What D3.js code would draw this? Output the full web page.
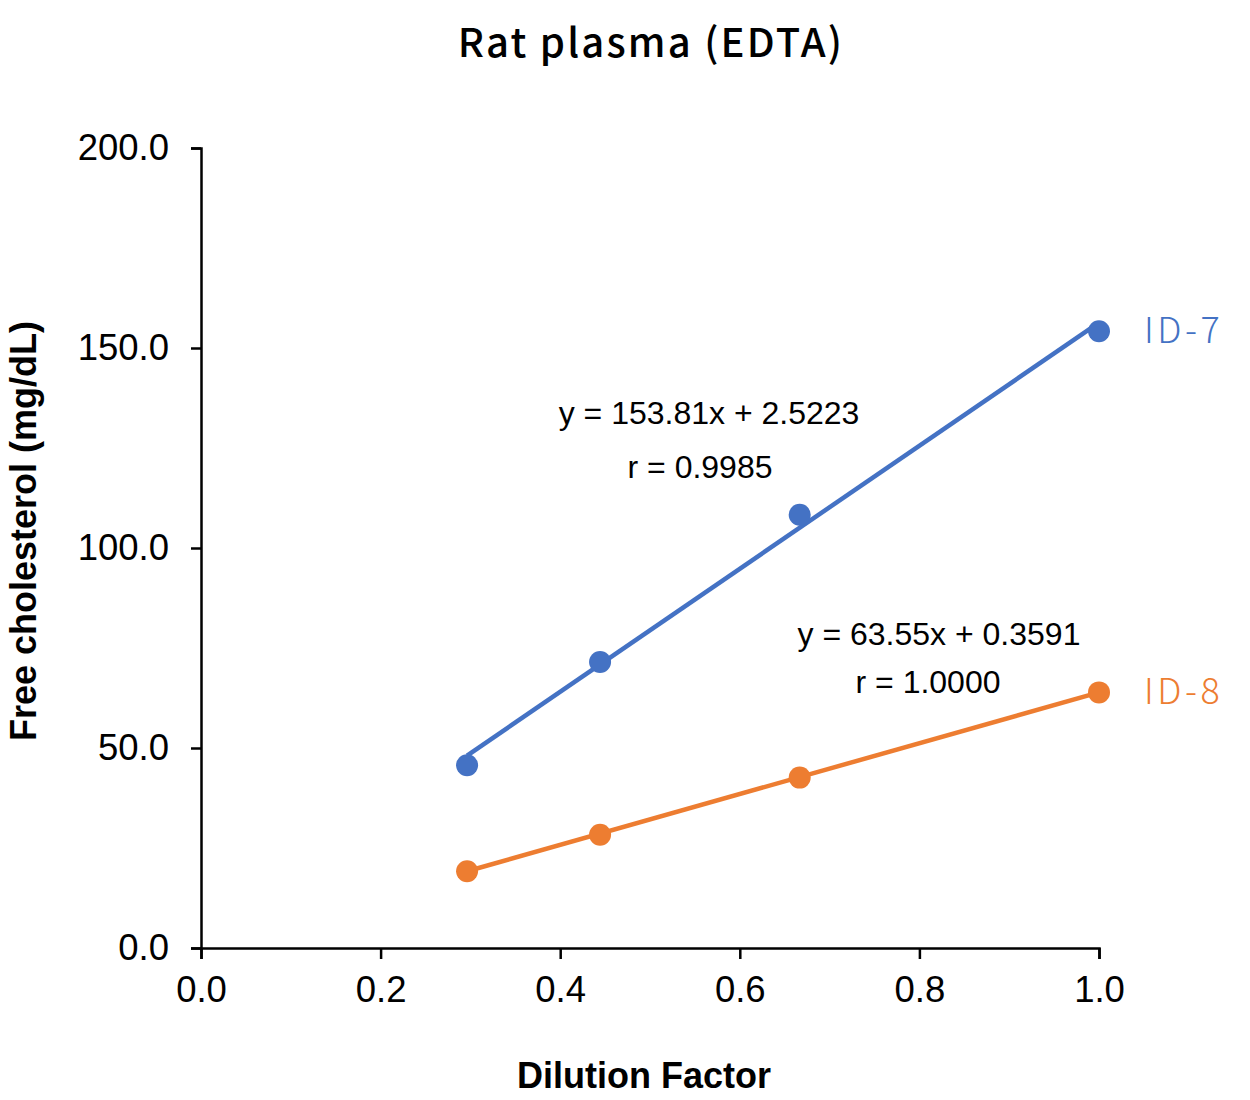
<!DOCTYPE html>
<html lang="en">
  <head>
    <meta charset="UTF-8" />
    <title>Rat plasma (EDTA)</title>
    <style>
      body { margin: 0; background: #fff; }
      .tick text { font-family: "Liberation Sans", Arial, sans-serif; font-size: 36.5px; fill: #000; }
      .eq { font-family: "Liberation Sans", Arial, sans-serif; font-size: 32px; fill: #000; }
    </style>
  </head>
  <body>
    <div id="wrapper"></div>
    <script src="https://d3js.org/d3.v7.min.js"></script>
    <script>
      // dilution factors and measured values
      var dilution = [0.2963, 0.4444, 0.6667, 1.0];
      var id7 = [45.7, 71.5, 108.3, 154.2];
      var id8 = [19.2, 28.3, 42.6, 63.9];
      var seriesNames = ["ID-7", "ID-8"];
      var fitSlope = [153.81, 63.55];
      var fitIntercept = [2.5223, 0.3591];
      var eqLabels = ["y = 153.81x + 2.5223", "y = 63.55x + 0.3591"];
      var rLabels = ["r = 0.9985", "r = 1.0000"];
      var xTicks = [0, 0.2, 0.4, 0.6, 0.8, 1.0];
      var yTicks = [0, 50, 100, 150, 200];

      var colors = ["#4472C4", "#ED7D31"];
      var width = 1250, height = 1100;
      var margin = {top: 148, right: 151, bottom: 152, left: 201};

      var svg = d3.select("#wrapper").append("svg")
          .attr("width", width)
          .attr("height", height);

      var x = d3.scaleLinear().domain([0, 1]).range([margin.left, width - margin.right]);
      var y = d3.scaleLinear().domain([0, 200]).range([height - margin.bottom, margin.top]);

      // title
      svg.append("text")
          .attr("x", 651).attr("y", 57)
          .attr("text-anchor", "middle")
          .style("font-family", "'Noto Sans CJK JP', 'Noto Sans', sans-serif")
          .style("font-weight", 500)
          .style("font-size", "40px")
          .style("letter-spacing", "2.2px")
          .text("Rat plasma (EDTA)");

      // axes
      svg.append("g")
          .attr("transform", "translate(0," + y(0) + ")")
          .call(d3.axisBottom(x).tickValues(xTicks).tickFormat(d3.format(".1f")).tickSizeInner(11).tickSizeOuter(11).tickPadding(17));
      svg.append("g")
          .attr("transform", "translate(" + x(0) + ",0)")
          .call(d3.axisLeft(y).tickValues(yTicks).tickFormat(d3.format(".1f")).tickSizeInner(10).tickSizeOuter(10).tickPadding(22));
      svg.selectAll(".domain").attr("stroke", "#000").attr("stroke-width", 2.5);
      svg.selectAll(".tick line").attr("stroke", "#000").attr("stroke-width", 2.5);

      // axis titles
      svg.append("text")
          .attr("x", 644).attr("y", 1088)
          .attr("text-anchor", "middle")
          .style("font-family", "'Liberation Sans', Arial, sans-serif")
          .style("font-weight", "bold")
          .style("font-size", "36px")
          .text("Dilution Factor");
      svg.append("text")
          .attr("transform", "translate(36,531) rotate(-90)")
          .attr("text-anchor", "middle")
          .style("font-family", "'Liberation Sans', Arial, sans-serif")
          .style("font-weight", "bold")
          .style("font-size", "36px")
          .text("Free cholesterol (mg/dL)");

      var series = [id7, id8];
      var x0 = d3.min(dilution), x1 = d3.max(dilution);

      series.forEach(function(vals, i) {
        // linear trendline
        svg.append("line")
            .attr("x1", x(x0)).attr("y1", y(fitSlope[i] * x0 + fitIntercept[i]))
            .attr("x2", x(x1)).attr("y2", y(fitSlope[i] * x1 + fitIntercept[i]))
            .attr("stroke", colors[i])
            .attr("stroke-width", 4.5);

        svg.selectAll(".pt" + i)
            .data(vals)
            .enter().append("circle")
            .attr("class", "pt" + i)
            .attr("cx", function(d, j) { return x(dilution[j]); })
            .attr("cy", function(d) { return y(d); })
            .attr("r", 11)
            .attr("fill", colors[i]);

        // series label
        svg.append("text")
            .attr("x", x(x1) + 45)
            .attr("y", y(vals[vals.length - 1]) + 12)
            .attr("fill", colors[i])
            .style("font-family", "'Noto Sans CJK JP', 'Noto Sans', sans-serif")
            .style("font-weight", 300)
            .style("font-size", "36px")
            .style("letter-spacing", "3.5px")
            .text(seriesNames[i]);
      });

      // equation labels
      var eqPos = [[709, 424, 700, 478], [939, 645, 928, 693]];
      eqLabels.forEach(function(t, i) {
        svg.append("text").attr("class", "eq")
            .attr("x", eqPos[i][0]).attr("y", eqPos[i][1])
            .attr("text-anchor", "middle").text(t);
        svg.append("text").attr("class", "eq")
            .attr("x", eqPos[i][2]).attr("y", eqPos[i][3])
            .attr("text-anchor", "middle").text(rLabels[i]);
      });
    </script>
  </body>
</html>
